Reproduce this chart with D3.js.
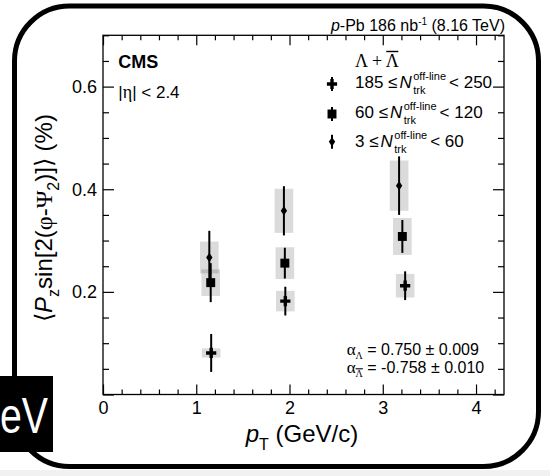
<!DOCTYPE html>
<html>
<head>
<meta charset="utf-8">
<script src="https://cdn.jsdelivr.net/npm/d3@7"></script>
<style>
  body { margin: 0; background: #fff; }
  svg { display: block; }
</style>
</head>
<body>
<div id="chart"></div>
<script>
// values
const ptMajorTicks = [0, 1, 2, 3, 4];
const pzMajorTicks = [0.2, 0.4, 0.6];

const multLow = [185, 60, 3];
const multHigh = [250, 120, 60];
const markerKinds = ["cross", "square", "diamond"];

const pt185 = [1.16, 1.955, 3.24];
const pz185 = [0.081, 0.182, 0.212];
const stat185 = [0.037, 0.028, 0.028];
const sys185 = [0.009, 0.02, 0.023];

const pt60 = [1.155, 1.95, 3.21];
const pz60 = [0.218, 0.256, 0.308];
const stat60 = [0.038, 0.03, 0.032];
const sys60 = [0.026, 0.031, 0.036];

const pt3 = [1.14, 1.94, 3.175];
const pz3 = [0.267, 0.358, 0.407];
const stat3 = [0.052, 0.048, 0.057];
const sys3 = [0.031, 0.043, 0.049];

const sysHalfPt = 0.1;

const series = [
  { lo: multLow[0], hi: multHigh[0], kind: markerKinds[0], pt: pt185, v: pz185, stat: stat185, sys: sys185 },
  { lo: multLow[1], hi: multHigh[1], kind: markerKinds[1], pt: pt60, v: pz60, stat: stat60, sys: sys60 },
  { lo: multLow[2], hi: multHigh[2], kind: markerKinds[2], pt: pt3, v: pz3, stat: stat3, sys: sys3 },
];

const W = 550, H = 476;
const margin = { top: 35.3, right: 46, bottom: 81.5, left: 103 };
const w = W - margin.left - margin.right,
  h = H - margin.top - margin.bottom;

const SANS = "'Liberation Sans', Arial, Helvetica, sans-serif";
const SERIF = "'Liberation Serif', 'Times New Roman', serif";

const svg = d3
  .select("#chart")
  .append("svg")
  .attr("width", W)
  .attr("height", H)
  .attr("font-family", SANS);

svg.append("rect").attr("width", W).attr("height", H).attr("fill", "#fff");
svg.append("rect").attr("x", 0).attr("y", 470).attr("width", W).attr("height", 6).attr("fill", "#f1f1f1");

const g = svg
  .append("g")
  .attr("transform", "translate(" + margin.left + "," + margin.top + ")");

const x = d3.scaleLinear().domain([0, 4.3]).range([0, w]);
const y = d3.scaleLinear().domain([0, 0.7]).range([h, 0]);

const ptMinor = d3.range(0, 22).filter((i) => i % 5 !== 0).map((i) => i / 5);
const pzMinor = d3.range(0, 15).filter((i) => i % 4 !== 0).map((i) => i * 0.05);
const pzMajorAll = [0].concat(pzMajorTicks);

function clean(sel) {
  sel.select(".domain").remove();
  sel.selectAll("line").attr("stroke", "#000").attr("stroke-width", 1.2);
  sel.selectAll("text").attr("font-family", SANS).attr("font-size", 18).attr("fill", "#000");
}

// bottom
g.append("g").attr("transform", "translate(0," + h + ")")
  .call(d3.axisBottom(x).tickValues(ptMajorTicks).tickSize(-10).tickPadding(7).tickFormat(d3.format("d")))
  .call(clean);
g.append("g").attr("transform", "translate(0," + h + ")")
  .call(d3.axisBottom(x).tickValues(ptMinor).tickSize(-5).tickFormat(""))
  .call(clean);
// top
g.append("g")
  .call(d3.axisTop(x).tickValues(ptMajorTicks).tickSize(-10).tickFormat(""))
  .call(clean);
g.append("g")
  .call(d3.axisTop(x).tickValues(ptMinor).tickSize(-5).tickFormat(""))
  .call(clean);
// left
g.append("g")
  .call(d3.axisLeft(y).tickValues(pzMajorAll).tickSize(-11).tickPadding(6)
    .tickFormat((d) => (d === 0 ? "" : d3.format(".1f")(d))))
  .call(clean);
g.append("g")
  .call(d3.axisLeft(y).tickValues(pzMinor).tickSize(-6).tickFormat(""))
  .call(clean);
// right
g.append("g").attr("transform", "translate(" + w + ",0)")
  .call(d3.axisRight(y).tickValues(pzMajorAll).tickSize(-11).tickFormat(""))
  .call(clean);
g.append("g").attr("transform", "translate(" + w + ",0)")
  .call(d3.axisRight(y).tickValues(pzMinor).tickSize(-6).tickFormat(""))
  .call(clean);

g.append("rect")
  .attr("width", w)
  .attr("height", h)
  .attr("fill", "none")
  .attr("stroke", "#000")
  .attr("stroke-width", 1.3);

// marker shapes
const thinDiamond = {
  draw(ctx, size) {
    const r = Math.sqrt(size) / 2;
    ctx.moveTo(0, -r * 1.5);
    ctx.lineTo(r, 0);
    ctx.lineTo(0, r * 1.5);
    ctx.lineTo(-r, 0);
    ctx.closePath();
  },
};
const symbolFor = {
  cross: d3.symbol(d3.symbolCross, 58),
  square: d3.symbol(d3.symbolSquare, 80),
  diamond: d3.symbol(thinDiamond, 40),
};

const points = series.flatMap((s) =>
  s.pt.map((p, i) => ({ kind: s.kind, pt: p, v: s.v[i], stat: s.stat[i], sys: s.sys[i] })),
);

// systematic boxes
g.append("g")
  .selectAll("rect")
  .data(points)
  .join("rect")
  .attr("x", (d) => x(d.pt - sysHalfPt))
  .attr("width", (d) => x(d.pt + sysHalfPt) - x(d.pt - sysHalfPt))
  .attr("y", (d) => y(d.v + d.sys))
  .attr("height", (d) => y(d.v - d.sys) - y(d.v + d.sys))
  .attr("fill", "#000")
  .attr("fill-opacity", 0.14);

// statistical bars
g.append("g")
  .selectAll("line")
  .data(points)
  .join("line")
  .attr("x1", (d) => x(d.pt))
  .attr("x2", (d) => x(d.pt))
  .attr("y1", (d) => y(d.v + d.stat))
  .attr("y2", (d) => y(d.v - d.stat))
  .attr("stroke", "#000")
  .attr("stroke-width", 2);

g.append("g")
  .selectAll("path")
  .data(points)
  .join("path")
  .attr("transform", (d) => "translate(" + x(d.pt) + "," + y(d.v) + ")")
  .attr("d", (d) => symbolFor[d.kind]())
  .attr("fill", "#000");

// texts inside the frame
svg.append("text")
  .attr("x", 118.3).attr("y", 67.7)
  .attr("font-size", 18).attr("font-weight", "bold")
  .text("CMS");

const eta = svg.append("text").attr("x", 118.3).attr("y", 98.3).attr("font-size", 17);
eta.append("tspan").text("|");
eta.append("tspan").attr("font-family", SERIF).attr("font-size", 18).text("η");
eta.append("tspan").text("| < 2.4");

// legend
const leg = svg.append("g");
const head = leg.append("text").attr("x", 355).attr("y", 66.7)
  .attr("font-family", SERIF).attr("font-size", 18);
const headA = head.append("tspan").text("Λ + ");
const headB = head.append("tspan").text("Λ");
const hx = 355 + headA.node().getComputedTextLength();
leg.append("line")
  .attr("x1", hx + 0.5).attr("x2", hx + headB.node().getComputedTextLength() - 0.5)
  .attr("y1", 51.5).attr("y2", 51.5)
  .attr("stroke", "#000").attr("stroke-width", 1.4);

const legRows = [87.7, 117.7, 146.7];
const legMarkY = [84, 114, 141.7];
series.forEach((s, i) => {
  leg.append("line")
    .attr("x1", 332).attr("x2", 332)
    .attr("y1", legMarkY[i] - 7).attr("y2", legMarkY[i] + 7)
    .attr("stroke", "#000").attr("stroke-width", 2);
  leg.append("path")
    .attr("transform", "translate(332," + legMarkY[i] + ")")
    .attr("d", symbolFor[s.kind]());

  const t = leg.append("text").attr("x", 355).attr("y", legRows[i]).attr("font-size", 17);
  t.append("tspan").text(s.lo + " ≤");
  t.append("tspan").attr("font-style", "italic").attr("dx", 2).text("N");
  const sup = t.append("tspan").attr("font-size", 11).attr("dx", 1.5).attr("dy", -8).text("off-line");
  const supW = sup.node().getComputedTextLength();
  const sub = t.append("tspan").attr("font-size", 11).attr("dx", -supW).attr("dy", 14).text("trk");
  const subW = sub.node().getComputedTextLength();
  t.append("tspan").attr("dx", supW - subW + 3).attr("dy", -6).text("< " + s.hi);
});

// alpha values
function alphaLine(yy, bar, rest) {
  const t = svg.append("text").attr("x", 346.7).attr("y", yy).attr("font-size", 16);
  const a = t.append("tspan").attr("font-family", SERIF).attr("font-size", 17).text("α");
  const l = t.append("tspan").attr("font-family", SERIF).attr("font-size", 10).attr("dy", 4).text("Λ");
  t.append("tspan").attr("dy", -4).text(" " + rest);
  if (bar) {
    const ax = 346.7 + a.node().getComputedTextLength();
    svg.append("line")
      .attr("x1", ax).attr("x2", ax + l.node().getComputedTextLength())
      .attr("y1", yy - 4.5).attr("y2", yy - 4.5)
      .attr("stroke", "#000").attr("stroke-width", 1.1);
  }
}
alphaLine(355, false, "= 0.750 ± 0.009");
alphaLine(373.3, true, "= -0.758 ± 0.010");

// top-right label
const lum = svg.append("text").attr("x", 505).attr("y", 31).attr("font-size", 16).attr("text-anchor", "end");
lum.append("tspan").attr("font-style", "italic").text("p");
lum.append("tspan").text("-Pb 186 nb");
lum.append("tspan").attr("font-size", 10).attr("dy", -6).text("-1");
lum.append("tspan").attr("dy", 6).text(" (8.16 TeV)");

// axis titles
const xt = svg.append("text").attr("x", 302).attr("y", 441.7).attr("font-size", 24).attr("text-anchor", "middle");
xt.append("tspan").attr("font-style", "italic").text("p");
xt.append("tspan").attr("font-size", 16).attr("dy", 8).text("T");
xt.append("tspan").attr("dy", -8).text(" (GeV/c)");

const yt = svg.append("text")
  .attr("transform", "translate(52,218) rotate(-90)")
  .attr("font-size", 24)
  .attr("text-anchor", "middle");
yt.append("tspan").text("⟨");
yt.append("tspan").attr("font-style", "italic").text("P");
yt.append("tspan").attr("font-size", 16).attr("dy", 7).text("z");
yt.append("tspan").attr("dy", -7).text("sin[2(");
yt.append("tspan").attr("font-family", SERIF).text("φ");
yt.append("tspan").text("-");
yt.append("tspan").attr("font-family", SERIF).text("Ψ");
yt.append("tspan").attr("font-size", 16).attr("dy", 7).text("2");
yt.append("tspan").attr("dy", -7).text(")]⟩ (%)");

// frame around the whole figure and the clipped caption box
svg.append("rect")
  .attr("x", 14.5).attr("y", 6)
  .attr("width", 524).attr("height", 460.5)
  .attr("rx", 55).attr("ry", 55)
  .attr("fill", "none")
  .attr("stroke", "#000")
  .attr("stroke-width", 5);

svg.append("rect").attr("x", 0).attr("y", 376).attr("width", 53).attr("height", 76).attr("fill", "#000");
svg.append("text")
  .attr("x", 0).attr("y", 433)
  .attr("font-size", 50)
  .attr("fill", "#fff")
  .attr("textLength", 48)
  .attr("lengthAdjust", "spacingAndGlyphs")
  .text("eV");
</script>
</body>
</html>
